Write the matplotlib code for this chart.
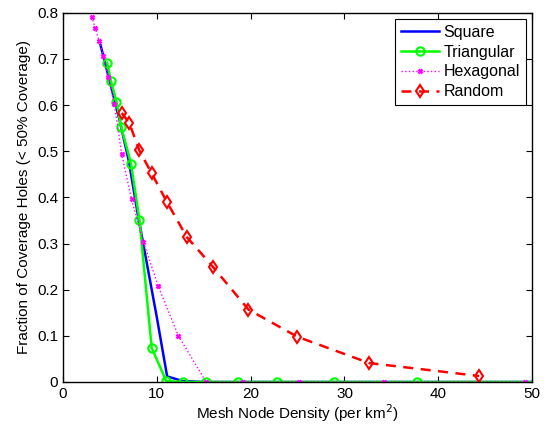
import matplotlib
matplotlib.use("Agg")
import matplotlib.pyplot as plt

plt.rcParams['font.family'] = ['Liberation Sans', 'DejaVu Sans']

# Data
square_x = [4.0, 5.0, 6.0, 7.0, 8.0, 9.0, 10.0, 11.1, 12.8, 15.0, 50.0]
square_y = [0.73, 0.65, 0.57, 0.48, 0.36, 0.25, 0.14, 0.012, 0.002, 0.0, 0.0]

tri_x = [4.7, 5.1, 5.7, 6.2, 7.25, 8.15, 9.45, 11.0, 12.8, 15.25, 18.6, 22.8, 28.9, 37.7, 52.0]
tri_y = [0.692, 0.653, 0.607, 0.553, 0.473, 0.351, 0.074, 0.002, 0.0, 0.0, 0.0, 0.0, 0.0, 0.0, 0.0]

hex_x = [3.06, 3.41, 3.84, 4.3, 4.83, 5.47, 6.25, 7.3, 8.56, 10.16, 12.3, 15.25, 19.2, 25.1, 34.2, 49.25]
hex_y = [0.792, 0.768, 0.740, 0.706, 0.662, 0.602, 0.494, 0.396, 0.304, 0.207, 0.100, 0.0, 0.0, 0.0, 0.0, 0.0]

rand_x = [6.26, 7.07, 8.13, 9.45, 11.05, 13.2, 15.96, 19.76, 24.98, 32.65, 44.35]
rand_y = [0.583, 0.561, 0.502, 0.452, 0.391, 0.314, 0.250, 0.157, 0.098, 0.041, 0.013]


fig = plt.figure(figsize=(5.48, 4.28), dpi=100)
ax = fig.add_axes([0.115, 0.1075, 0.856, 0.8625])

ax.plot(square_x, square_y, color="#0000ff", lw=1.8, label="Square")
ax.plot(tri_x, tri_y, color="#00ff00", lw=1.8, marker="o", ms=6, mfc="none",
        mew=1.5, label="Triangular")
ax.plot(hex_x, hex_y, color="#ff00ff", lw=1.0, ls=":", marker="x", ms=3.5,
        mew=1.8, label="Hexagonal")
ax.plot(rand_x, rand_y, color="#ff0000", lw=1.8, ls="--", marker="d", ms=6,
        mfc="none", mew=1.5, label="Random", dashes=(4, 3))

ax.set_xlim(0, 50)
ax.set_ylim(0, 0.8)
ax.set_xticks([0, 10, 20, 30, 40, 50])
ax.set_yticks([0, 0.1, 0.2, 0.3, 0.4, 0.5, 0.6, 0.7, 0.8])
ax.set_yticklabels(["0", "0.1", "0.2", "0.3", "0.4", "0.5", "0.6", "0.7", "0.8"])
ax.tick_params(direction="in", top=True, right=True, labelsize=11, length=4)
for s in ax.spines.values():
    s.set_linewidth(1.0)

ax.set_xlabel("Mesh Node Density (per km$^2$)", fontsize=11, labelpad=1)
ax.set_ylabel("Fraction of Coverage Holes (< 50% Coverage)", fontsize=11, labelpad=4)

leg = ax.legend(loc="upper right", fontsize=11.5, fancybox=False, framealpha=1,
                edgecolor="black", handlelength=2.4, borderaxespad=0.4,
                handletextpad=0.3, labelspacing=0.3, borderpad=0.35)
leg.get_frame().set_linewidth(0.8)

fig.savefig("out.png", dpi=100)
